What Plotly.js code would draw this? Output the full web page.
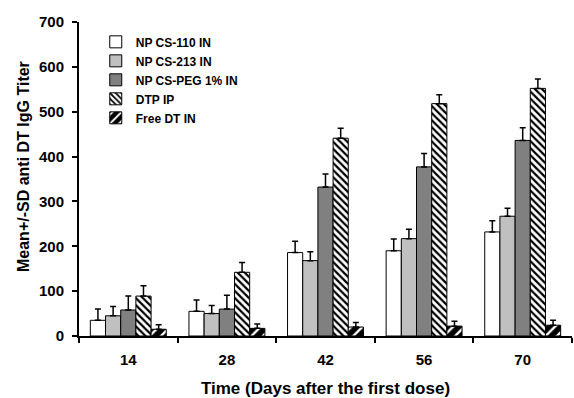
<!DOCTYPE html>
<html>
<head>
<meta charset="utf-8">
<script src="https://cdn.plot.ly/plotly-3.0.1.min.js"></script>
<style>html,body{margin:0;padding:0;background:#fff;}#chart{width:574px;height:398px;}</style>
</head>
<body>
<div id="chart"></div>
<script>
const days = ["14", "28", "42", "56", "70"];
const seriesNames = ["NP CS-110 IN", "NP CS-213 IN", "NP CS-PEG 1% IN", "DTP IP", "Free DT IN"];
const cs110 = [35, 55, 186, 190, 232];
const cs110Sd = [25, 25, 25, 26, 25];
const cs213 = [45, 50, 168, 217, 267];
const cs213Sd = [21, 18, 20, 21, 18];
const csPeg = [58, 60, 332, 377, 436];
const csPegSd = [31, 31, 29, 30, 28];
const dtpIp = [89, 142, 441, 518, 552];
const dtpIpSd = [23, 22, 22, 20, 21];
const freeDt = [15, 17, 20, 22, 24];
const freeDtSd = [10, 10, 10, 11, 11];
const yTicks = [0, 100, 200, 300, 400, 500, 600, 700];

const FONT = "Arial, 'Liberation Sans', sans-serif";
const values = [cs110, cs213, csPeg, dtpIp, freeDt];
const sds = [cs110Sd, cs213Sd, csPegSd, dtpIpSd, freeDtSd];
const fills = [
  {color: "#ffffff"},
  {color: "#c0c0c0"},
  {color: "#808080"},
  {color: "#ffffff", pattern: {shape: "\\", fgcolor: "#000000", bgcolor: "#ffffff", size: 5, solidity: 0.45}},
  {color: "#000000", pattern: {shape: "/", fgcolor: "#ffffff", bgcolor: "#000000", size: 8, solidity: 0.3}}
];

const traces = seriesNames.map((name, i) => ({
  type: "bar",
  name: "<b>" + name + "</b>",
  x: days,
  y: values[i],
  marker: Object.assign({line: {color: "#000000", width: 1}}, fills[i]),
  error_y: {type: "data", symmetric: false, array: sds[i], arrayminus: sds[i].map(() => 0),
            color: "#000000", thickness: 1.5, width: 3},
  hoverinfo: "x+y+name"
}));

const layout = {
  width: 574, height: 398,
  margin: {l: 79, r: 2, t: 22, b: 62},
  paper_bgcolor: "#ffffff", plot_bgcolor: "#ffffff",
  font: {family: FONT, size: 13, color: "#000000"},
  barmode: "group",
  bargap: 0.23,
  bargroupgap: 0,
  showlegend: true,
  legend: {x: 0.034, y: 0.983, xanchor: "left", yanchor: "top",
           bgcolor: "rgba(0,0,0,0)", font: {family: FONT, size: 12, color: "#000"},
           tracegroupgap: 0, itemwidth: 30},
  xaxis: {
    type: "category",
    tickvals: days, ticktext: days.map(d => "<b>" + d + "</b>"),
    showline: true, linecolor: "#000000", linewidth: 2,
    ticks: "outside", tickson: "boundaries", ticklen: 5, tickwidth: 2, tickcolor: "#000",
    tickfont: {family: FONT, size: 15},
    ticklabelstandoff: 9,
    title: {text: "<b>Time (Days after the first dose)</b>", font: {family: FONT, size: 17}, standoff: 20},
    showgrid: false, zeroline: false
  },
  yaxis: {
    range: [0, 700],
    tickvals: yTicks, ticktext: yTicks.map(v => "<b>" + v + "</b>"),
    showline: true, linecolor: "#000000", linewidth: 2,
    ticks: "outside", ticklen: 5, tickwidth: 2, tickcolor: "#000",
    tickfont: {family: FONT, size: 15},
    ticklabelstandoff: 5,
    showgrid: false, zeroline: false
  },
  annotations: [{
    text: "<b>Mean+/-SD anti DT IgG Titer</b>",
    xref: "paper", yref: "paper",
    x: (23 - 79) / 493, y: (336 - 167) / 314,
    xanchor: "center", yanchor: "middle",
    textangle: -90, showarrow: false,
    font: {family: FONT, size: 16, color: "#000"}
  }]
};

Plotly.newPlot("chart", traces, layout, {displayModeBar: false, staticPlot: true});
</script>
</body>
</html>
